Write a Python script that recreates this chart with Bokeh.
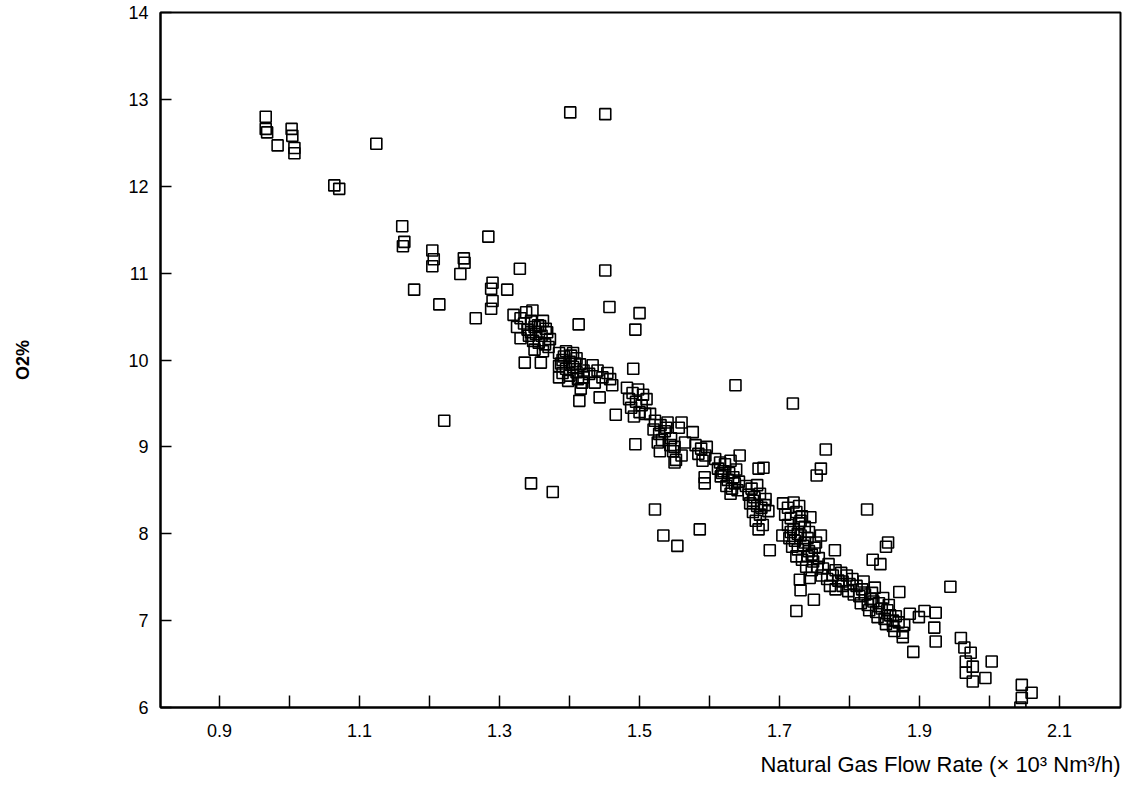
from bokeh.plotting import figure
from bokeh.models import FixedTicker, Range1d, Title
from bokeh.embed import file_html
from bokeh.resources import INLINE

# ---- data (x: natural gas flow x10^3 Nm3/h, y: O2 %) ----
x_upper = [0.966, 0.966, 0.968, 0.983, 1.003, 1.004, 1.007, 1.007, 1.124, 1.064, 1.071, 1.401, 1.451,
           1.161, 1.164, 1.162, 1.204, 1.206, 1.204, 1.249, 1.250, 1.244, 1.284, 1.329, 1.451, 1.178,
           1.290, 1.288, 1.311, 1.214, 1.290, 1.288, 1.266, 1.457, 1.500, 1.494, 1.413, 1.221, 1.345,
           1.376, 1.637, 1.719]
y_upper = [12.80, 12.66, 12.62, 12.47, 12.66, 12.58, 12.44, 12.38, 12.49, 12.01, 11.97, 12.85, 12.83,
           11.54, 11.36, 11.31, 11.26, 11.16, 11.08, 11.17, 11.12, 10.99, 11.42, 11.05, 11.03, 10.81,
           10.89, 10.82, 10.81, 10.64, 10.68, 10.59, 10.48, 10.61, 10.54, 10.35, 10.41, 9.30, 8.58,
           8.48, 9.71, 9.50]

x_band_a = [1.320, 1.330, 1.338, 1.347, 1.335, 1.345, 1.325, 1.340, 1.350, 1.358, 1.362, 1.342, 1.352,
            1.360, 1.368, 1.348, 1.356, 1.365, 1.372, 1.350, 1.362, 1.370, 1.345, 1.336, 1.359, 1.330,
            1.385, 1.395, 1.405, 1.390, 1.400, 1.410, 1.385, 1.395, 1.405, 1.415, 1.390, 1.400, 1.410,
            1.420, 1.398, 1.412, 1.385, 1.420, 1.433, 1.440, 1.447, 1.416, 1.414, 1.454, 1.458, 1.461,
            1.443, 1.466, 1.491, 1.482, 1.490, 1.498, 1.505, 1.485, 1.495, 1.503, 1.510, 1.488, 1.500,
            1.508, 1.492, 1.494, 1.529, 1.392, 1.402, 1.408, 1.388, 1.418, 1.355, 1.366, 1.428, 1.436]
y_band_a = [10.52, 10.48, 10.55, 10.57, 10.42, 10.45, 10.38, 10.35, 10.38, 10.39, 10.45, 10.28, 10.30,
            10.28, 10.32, 10.22, 10.20, 10.18, 10.24, 10.12, 10.10, 10.15, 10.32, 9.97, 9.97, 10.25,
            10.08, 10.10, 10.08, 10.00, 9.98, 10.02, 9.93, 9.90, 9.92, 9.95, 9.85, 9.82, 9.86,
            9.88, 9.76, 9.78, 9.80, 9.80, 9.94, 9.88, 9.80, 9.67, 9.53, 9.85, 9.78, 9.71,
            9.57, 9.37, 9.90, 9.68, 9.62, 9.66, 9.60, 9.55, 9.52, 9.48, 9.55, 9.45, 9.40,
            9.38, 9.35, 9.03, 8.95, 10.04, 10.05, 9.96, 9.96, 9.74, 10.40, 10.36, 9.84, 9.74]

x_band_b = [1.515, 1.522, 1.530, 1.520, 1.528, 1.536, 1.540, 1.532, 1.545, 1.526, 1.550, 1.556, 1.548,
            1.560, 1.552, 1.565, 1.560, 1.576, 1.550, 1.580, 1.588, 1.596, 1.584, 1.594, 1.590, 1.593,
            1.593, 1.643, 1.670, 1.522, 1.534, 1.554, 1.586, 1.608, 1.615, 1.622, 1.630, 1.612, 1.620,
            1.628, 1.638, 1.616, 1.626, 1.634, 1.642, 1.624, 1.632, 1.640, 1.630, 1.652, 1.660, 1.668,
            1.656, 1.664, 1.672, 1.680, 1.658, 1.668, 1.679, 1.662, 1.672, 1.684, 1.666, 1.676, 1.670,
            1.686, 1.677, 1.766, 1.759, 1.753, 1.538, 1.544, 1.618, 1.636, 1.662, 1.674]
y_band_b = [9.38, 9.30, 9.25, 9.20, 9.15, 9.18, 9.28, 9.08, 9.10, 9.05, 9.00, 9.22, 8.95,
            8.90, 8.85, 9.05, 9.28, 9.17, 8.82, 9.02, 8.98, 9.00, 8.92, 8.90, 8.84, 8.65,
            8.58, 8.90, 8.75, 8.28, 7.98, 7.86, 8.05, 8.86, 8.82, 8.80, 8.84, 8.75, 8.72,
            8.70, 8.74, 8.66, 8.62, 8.65, 8.60, 8.55, 8.52, 8.50, 8.46, 8.55, 8.52, 8.56,
            8.45, 8.42, 8.46, 8.40, 8.35, 8.32, 8.33, 8.25, 8.22, 8.26, 8.15, 8.10, 8.05,
            7.81, 8.76, 8.97, 8.75, 8.67, 9.22, 9.02, 8.70, 8.58, 8.38, 8.30]

x_band_c = [1.705, 1.712, 1.720, 1.728, 1.708, 1.716, 1.724, 1.732, 1.744, 1.712, 1.720, 1.728, 1.736,
            1.704, 1.714, 1.722, 1.730, 1.740, 1.759, 1.718, 1.726, 1.734, 1.742, 1.750, 1.724, 1.732,
            1.740, 1.748, 1.756, 1.779, 1.738, 1.746, 1.754, 1.762, 1.770, 1.729, 1.743, 1.730, 1.749,
            1.724, 1.760, 1.768, 1.776, 1.784, 1.772, 1.780, 1.790, 1.798, 1.825, 1.855, 1.852,
            1.716, 1.726, 1.736, 1.730, 1.742, 1.752, 1.746]
y_band_c = [8.35, 8.30, 8.36, 8.32, 8.22, 8.18, 8.25, 8.20, 8.19, 8.10, 8.05, 8.12, 8.08,
            7.98, 7.95, 7.92, 7.98, 7.95, 7.98, 7.85, 7.82, 7.86, 7.80, 7.84, 7.74, 7.70,
            7.74, 7.68, 7.72, 7.81, 7.62, 7.58, 7.62, 7.60, 7.65, 7.47, 7.49, 7.35, 7.24,
            7.11, 7.52, 7.48, 7.52, 7.46, 7.40, 7.36, 7.40, 7.34, 8.28, 7.90, 7.85,
            8.02, 8.00, 7.90, 8.15, 8.02, 7.90, 7.76]

x_lower = [1.780, 1.788, 1.796, 1.804, 1.790, 1.800, 1.810, 1.818, 1.806, 1.814, 1.822, 1.830, 1.816,
           1.826, 1.834, 1.842, 1.828, 1.838, 1.846, 1.854, 1.840, 1.850, 1.858, 1.866, 1.852, 1.862,
           1.870, 1.878, 1.864, 1.876, 1.876, 1.871, 1.899, 1.886, 1.907, 1.844, 1.833, 1.820, 1.836,
           1.944, 1.923, 1.921, 1.923, 1.891, 1.959, 1.964, 1.973, 1.966, 1.976, 1.966, 1.976, 1.994,
           2.003, 2.046, 2.060, 2.046, 2.044, 1.848, 1.856, 1.862, 1.832]
y_lower = [7.58, 7.55, 7.52, 7.48, 7.45, 7.42, 7.40, 7.36, 7.30, 7.28, 7.30, 7.25, 7.20,
           7.18, 7.22, 7.20, 7.12, 7.10, 7.14, 7.12, 7.04, 7.02, 7.06, 7.05, 6.96, 6.94,
           6.98, 6.95, 6.88, 6.86, 6.81, 7.33, 7.04, 7.08, 7.11, 7.65, 7.70, 7.45, 7.38,
           7.39, 7.09, 6.92, 6.76, 6.64, 6.80, 6.69, 6.63, 6.53, 6.47, 6.40, 6.30, 6.34,
           6.53, 6.26, 6.17, 6.11, 6.00, 7.26, 7.18, 7.00, 7.32]

x_major_ticks = [0.9, 1.1, 1.3, 1.5, 1.7, 1.9, 2.1]
x_minor_ticks = [1.0, 1.2, 1.4, 1.6, 1.8, 2.0]
y_ticks = [6, 7, 8, 9, 10, 11, 12, 13, 14]

FONT = "Liberation Sans"

p = figure(width=1123, height=795, output_backend="svg", toolbar_location=None,
           x_range=Range1d(0.8157, 2.187), y_range=Range1d(6, 14),
           min_border_left=160, min_border_right=3, min_border_top=12, min_border_bottom=88)

for xs, ys in [(x_upper, y_upper), (x_band_a, y_band_a), (x_band_b, y_band_b),
               (x_band_c, y_band_c), (x_lower, y_lower)]:
    p.scatter(xs, ys, marker="square", size=11, fill_alpha=0, line_color="black", line_width=1.6)

p.grid.visible = False
p.outline_line_color = "black"
p.outline_line_width = 2
p.background_fill_color = "white"
p.border_fill_color = "white"

xa = p.xaxis[0]
xa.ticker = FixedTicker(ticks=x_major_ticks, minor_ticks=x_minor_ticks)
xa.axis_line_width = 2
xa.major_tick_in = 12
xa.major_tick_out = 0
xa.minor_tick_in = 12
xa.minor_tick_out = 0
xa.major_tick_line_width = 1.5
xa.minor_tick_line_width = 1.5
xa.major_label_standoff = 16
xa.major_label_text_font = FONT
xa.major_label_text_font_size = "18px"
xa.major_label_text_color = "black"

ya = p.yaxis[0]
ya.ticker = FixedTicker(ticks=y_ticks, minor_ticks=[])
ya.axis_line_width = 2
ya.major_tick_in = 11
ya.major_tick_out = 0
ya.major_tick_line_width = 1.5
ya.minor_tick_line_color = None
ya.major_label_standoff = 12
ya.major_label_text_font = FONT
ya.major_label_text_font_size = "18px"
ya.major_label_text_color = "black"
ya.axis_label = "O2%"
ya.axis_label_standoff = 92
ya.axis_label_text_font = FONT
ya.axis_label_text_font_size = "18px"
ya.axis_label_text_font_style = "bold"
ya.axis_label_text_color = "black"

p.add_layout(Title(text="Natural Gas Flow Rate (\u00d7 10\u00b3 Nm\u00b3/h)", align="right",
                   text_font=FONT, text_font_size="22px", text_font_style="normal",
                   text_color="black", standoff=20), "below")

open("out.html", "w").write(file_html(p, INLINE))
